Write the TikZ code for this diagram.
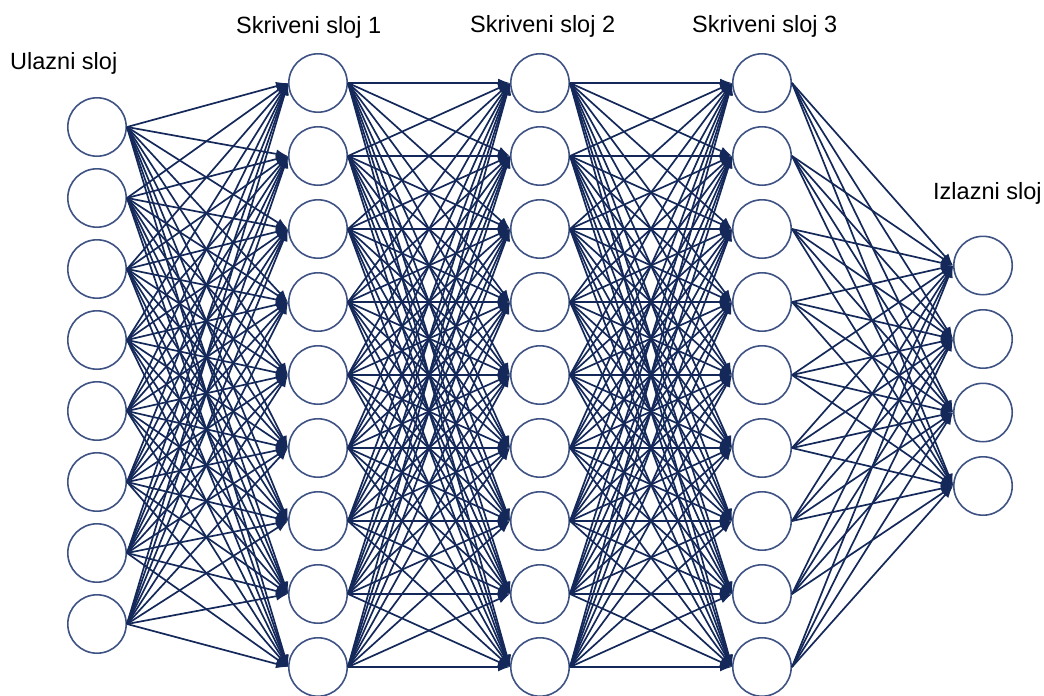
\documentclass[tikz,border=0pt]{standalone}
\usepackage{fontspec}
\setmainfont{Liberation Sans}
\usetikzlibrary{arrows.meta}
\definecolor{edgecol}{HTML}{14295A}
\definecolor{ringcol}{HTML}{3E5283}
\begin{document}
\begin{tikzpicture}[x=1pt,y=-1pt,
  neuron/.style={circle,draw=ringcol,line width=1.6pt,fill=white,minimum size=58.4pt,inner sep=0pt},
  conn/.style={draw=edgecol,line width=1.7pt,-{Latex[length=12pt,width=9pt]}},
  lbl/.style={font=\fontsize{23.5}{28}\selectfont,text=black,inner sep=0pt}]
\useasboundingbox (0,0) rectangle (1044,696);
% neurons
\foreach \k in {0,...,7} \node[neuron] (i\k) at (97,{127+71*\k}) {};
\foreach \k in {0,...,8} {
  \node[neuron] (a\k) at (318,{83+73*\k}) {};
  \node[neuron] (b\k) at (540,{83+73*\k}) {};
  \node[neuron] (c\k) at (762,{83+73*\k}) {};
}
\foreach \k in {0,...,3} \node[neuron] (o\k) at (983,{265.5+73.5*\k}) {};
% connections
\foreach \s in {0,...,7} \foreach \t in {0,...,8} \draw[conn] (i\s.east) -- (a\t.west);
\foreach \s in {0,...,8} \foreach \t in {0,...,8} \draw[conn] (a\s.east) -- (b\t.west);
\foreach \s in {0,...,8} \foreach \t in {0,...,8} \draw[conn] (b\s.east) -- (c\t.west);
\foreach \s in {0,...,8} \foreach \t in {0,...,3} \draw[conn] (c\s.east) -- (o\t.west);
% labels
\node[lbl,anchor=base west] (l0) at (10,69) {Ulazni sloj};
\node[lbl,anchor=base west] (l1) at (236,33) {Skriveni sloj 1};
\node[lbl,anchor=base west] (l2) at (470,32) {Skriveni sloj 2};
\node[lbl,anchor=base west] (l3) at (692,32) {Skriveni sloj 3};
\node[lbl,anchor=base west] (l4) at (933,199) {Izlazni sloj};
\end{tikzpicture}
\end{document}
